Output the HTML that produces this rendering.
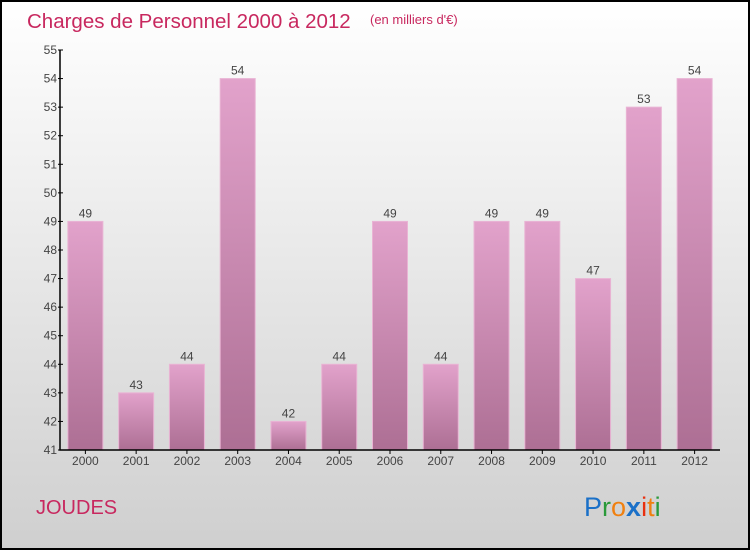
<!DOCTYPE html>
<html><head><meta charset="utf-8"><style>
body{margin:0;width:750px;height:550px;overflow:hidden;font-family:"Liberation Sans",sans-serif}
</style></head><body>
<svg id="chart" width="750" height="550" xmlns="http://www.w3.org/2000/svg" font-family="Liberation Sans, sans-serif">
<defs>
<linearGradient id="bg" x1="0" y1="0" x2="0" y2="1"><stop offset="0" stop-color="#ffffff"/><stop offset="1" stop-color="#cfcfcf"/></linearGradient>
<linearGradient id="bar" x1="0" y1="0" x2="0" y2="1"><stop offset="0" stop-color="#e2a2cb"/><stop offset="1" stop-color="#ad6f94"/></linearGradient>
</defs>
<rect x="1" y="1" width="748" height="548" fill="url(#bg)" stroke="#000" stroke-width="2"/>
<text x="27" y="28" font-size="20.5" fill="#c8285f">Charges de Personnel 2000 à 2012</text>
<text x="370" y="24" font-size="13" fill="#c8285f">(en milliers d'€)</text>
<text x="36" y="514" font-size="20" fill="#c8285f">JOUDES</text>
<g font-size="27">
<text x="584" y="516"><tspan fill="#1a70c8">P</tspan><tspan fill="#2a9a3a">r</tspan><tspan fill="#f08010">o</tspan><tspan fill="#1a70c8" font-weight="bold">x</tspan><tspan fill="#e83010">i</tspan><tspan fill="#f08010">t</tspan><tspan fill="#2a9a3a">i</tspan></text>
</g>
<g id="plot"></g>
</svg>
<script>
const years=["2000","2001","2002","2003","2004","2005","2006","2007","2008","2009","2010","2011","2012"];
const values=[49,43,44,54,42,44,49,44,49,49,47,53,54];
const yTicks=[41,42,43,44,45,46,47,48,49,50,51,52,53,54,55];
const ns="http://www.w3.org/2000/svg";
const g=document.getElementById('plot');
const x0=60,x1=720,yMin=41,yMax=55,yTop=50,yBot=450;
const step=(x1-x0)/years.length;
const y=v=>yBot-(v-yMin)/(yMax-yMin)*(yBot-yTop);
function mk(t,a,p){const e=document.createElementNS(ns,t);for(const k in a)e.setAttribute(k,a[k]);(p||g).appendChild(e);return e;}
years.forEach((yr,i)=>{
 const cx=x0+step*(i+0.5),w=35;
 const r=mk('rect',{x:cx-w/2,y:y(values[i]),width:w,height:yBot-y(values[i]),fill:'url(#bar)',stroke:'#e9b4d4','stroke-width':1});
 
 
 const t=mk('text',{x:cx,y:y(values[i])-4,'text-anchor':'middle','font-size':12,fill:'#444'});t.textContent=values[i];
 
 
 const l=mk('text',{x:cx,y:465,'text-anchor':'middle','font-size':12,fill:'#444'});l.textContent=yr;
 
 
 mk('line',{x1:cx,x2:cx,y1:yBot,y2:yBot+4,stroke:'#000'});
});
yTicks.forEach(v=>{
 mk('line',{x1:x0-2,x2:x0+3,y1:y(v),y2:y(v),stroke:'#000'});
 const t=mk('text',{x:x0-3,y:y(v)+4,'text-anchor':'end','font-size':12,fill:'#444'});t.textContent=v;
 
 
});
const ax=mk('path',{d:`M${x0} ${yTop}V${yBot}H${x1}`,fill:'none',stroke:'#000','stroke-width':1.5});


</script>
</body></html>
